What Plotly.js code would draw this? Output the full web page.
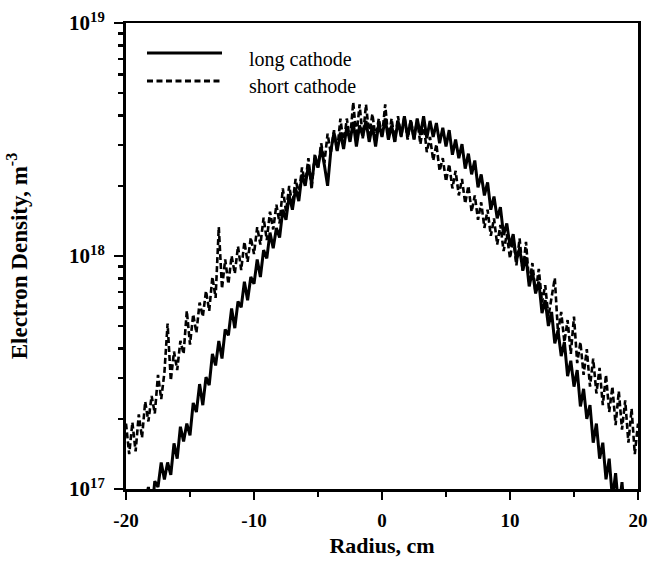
<!DOCTYPE html>
<html>
<head>
<meta charset="utf-8">
<script src="https://cdn.plot.ly/plotly-3.0.1.min.js"></script>
<style>html,body{margin:0;padding:0;background:#fff;}#chart{width:650px;height:569px;}</style>
</head>
<body>
<div id="chart"></div>
<script>
// Radius positions (cm)
const radius = [-20,-19.75,-19.5,-19.25,-19,-18.75,-18.5,-18.25,-18,-17.75,-17.5,-17.25,-17,-16.75,-16.5,-16.25,-16,-15.75,-15.5,-15.25,-15,-14.75,-14.5,-14.25,-14,-13.75,-13.5,-13.25,-13,-12.75,-12.5,-12.25,-12,-11.75,-11.5,-11.25,-11,-10.75,-10.5,-10.25,-10,-9.75,-9.5,-9.25,-9,-8.75,-8.5,-8.25,-8,-7.75,-7.5,-7.25,-7,-6.75,-6.5,-6.25,-6,-5.75,-5.5,-5.25,-5,-4.75,-4.5,-4.25,-4,-3.75,-3.5,-3.25,-3,-2.75,-2.5,-2.25,-2,-1.75,-1.5,-1.25,-1,-0.75,-0.5,-0.25,0,0.25,0.5,0.75,1,1.25,1.5,1.75,2,2.25,2.5,2.75,3,3.25,3.5,3.75,4,4.25,4.5,4.75,5,5.25,5.5,5.75,6,6.25,6.5,6.75,7,7.25,7.5,7.75,8,8.25,8.5,8.75,9,9.25,9.5,9.75,10,10.25,10.5,10.75,11,11.25,11.5,11.75,12,12.25,12.5,12.75,13,13.25,13.5,13.75,14,14.25,14.5,14.75,15,15.25,15.5,15.75,16,16.25,16.5,16.75,17,17.25,17.5,17.75,18,18.25,18.5,18.75,19,19.25,19.5,19.75,20];

// Electron density, m^-3 (long cathode, solid line)
const longCathode = [6.9e16,5.8e16,7.4e16,7.0e16,9.3e16,7.4e16,8.7e16,1.02e17,7.9e16,
1.08e17,1.02e17,1.30e17,1.10e17,1.30e17,1.15e17,1.57e17,1.35e17,
1.85e17,1.60e17,1.91e17,1.70e17,2.34e17,2.14e17,2.82e17,2.29e17,
3.02e17,2.79e17,3.80e17,3.39e17,4.32e17,3.63e17,4.84e17,4.57e17,
5.96e17,4.90e17,6.38e17,6.03e17,7.76e17,6.46e17,8.13e17,7.59e17,
9.66e17,8.13e17,1.06e18,9.77e17,1.26e18,1.08e18,1.32e18,1.20e18,
1.58e18,1.43e18,1.82e18,1.58e18,1.95e18,1.72e18,2.24e18,2.0e18,
2.45e18,2.04e18,2.63e18,2.40e18,2.92e18,2.45e18,2.0e18,2.82e18,
3.39e18,2.82e18,3.39e18,2.88e18,3.59e18,3.09e18,3.76e18,2.95e18,
3.63e18,3.27e18,3.80e18,3.09e18,3.63e18,2.95e18,3.72e18,3.24e18,
3.89e18,3.16e18,3.63e18,3.09e18,3.80e18,3.27e18,3.98e18,3.24e18,
3.80e18,3.16e18,3.89e18,3.31e18,3.98e18,3.20e18,3.80e18,3.24e18,
3.72e18,3.05e18,3.55e18,2.95e18,3.47e18,2.72e18,3.16e18,2.63e18,
3.02e18,2.37e18,2.75e18,2.24e18,2.57e18,1.97e18,2.24e18,1.82e18,
2.07e18,1.58e18,1.80e18,1.45e18,1.62e18,1.23e18,1.38e18,1.10e18,
1.24e18,9.55e17,1.08e18,8.71e17,9.89e17,7.41e17,8.61e17,6.92e17,
7.76e17,5.69e17,6.46e17,5.01e17,5.75e17,4.22e17,4.79e17,3.72e17,
4.27e17,3.05e17,3.55e17,2.75e17,3.24e17,2.26e17,2.69e17,2.0e17,
2.29e17,1.58e17,1.91e17,1.35e17,1.58e17,1.10e17,1.35e17,9.1e16,
1.17e17,8.1e16,1.07e17,7.2e16,9.3e16,6.8e16,8.1e16,6.6e16];

// Electron density, m^-3 (short cathode, dashed line)
const shortCathode = [1.91e17,1.41e17,1.93e17,1.45e17,2.09e17,1.66e17,2.37e17,1.95e17,2.51e17,
2.11e17,3.09e17,2.43e17,3.16e17,5.13e17,2.92e17,3.89e17,3.24e17,
4.32e17,3.80e17,5.82e17,4.17e17,5.62e17,4.68e17,6.31e17,5.50e17,
7.08e17,5.82e17,8.13e17,6.61e17,1.33e18,7.24e17,9.66e17,7.59e17,
1.0e18,8.41e17,1.10e18,8.71e17,1.15e18,9.44e17,1.20e18,1.02e18,
1.33e18,1.12e18,1.46e18,1.17e18,1.55e18,1.30e18,1.66e18,1.38e18,
1.95e18,1.55e18,2.0e18,1.66e18,2.14e18,1.82e18,2.40e18,2.04e18,
2.63e18,1.93e18,2.75e18,2.40e18,3.05e18,2.51e18,3.35e18,2.75e18,
3.47e18,2.82e18,3.89e18,3.02e18,3.89e18,3.13e18,4.57e18,3.24e18,
4.47e18,3.20e18,4.47e18,3.31e18,4.07e18,3.20e18,3.89e18,3.24e18,
4.47e18,3.16e18,3.89e18,3.09e18,3.98e18,3.24e18,3.98e18,3.16e18,
3.85e18,3.16e18,3.85e18,3.02e18,3.72e18,2.79e18,3.24e18,2.57e18,
3.02e18,2.32e18,2.63e18,2.09e18,2.48e18,1.95e18,2.32e18,1.82e18,
2.14e18,1.68e18,2.0e18,1.55e18,1.82e18,1.43e18,1.70e18,1.32e18,
1.58e18,1.22e18,1.45e18,1.12e18,1.36e18,1.05e18,1.24e18,9.77e17,
1.19e18,9.12e17,1.19e18,8.51e17,1.15e18,7.59e17,9.33e17,6.92e17,
8.81e17,6.31e17,7.50e17,5.50e17,6.76e17,8.04e17,4.68e17,5.75e17,
4.27e17,5.31e17,3.80e17,5.50e17,3.47e17,4.27e17,3.09e17,3.98e17,
2.75e17,3.63e17,2.57e17,3.31e17,2.29e17,3.09e17,2.14e17,2.75e17,
1.88e17,2.63e17,1.80e17,2.40e17,1.58e17,2.21e17,1.41e17,1.91e17];

const seriesNames = ['long cathode', 'short cathode'];

// Axis ticks
const xTickVals = [-20, -10, 0, 10, 20];
const xTickText = ['-20', '-10', '0', '10', '20'];
const xMinorTickVals = [-15, -5, 5, 15];
const yTickVals = [1e17, 1e18, 1e19];
const yTickText = ['10<sup>17</sup>', '10<sup>18</sup>', '10<sup>19</sup>'];
const yMinorTickVals = [2e17,3e17,4e17,5e17,6e17,7e17,8e17,9e17,2e18,3e18,4e18,5e18,6e18,7e18,8e18,9e18];

const FONT = 'Liberation Serif, Times New Roman, serif';

const traces = [
  {x: radius, y: longCathode, name: seriesNames[0], type: 'scatter', mode: 'lines',
   line: {color: '#000', width: 3}, showlegend: false},
  {x: radius, y: shortCathode, name: seriesNames[1], type: 'scatter', mode: 'lines',
   line: {color: '#000', width: 2.6, dash: '6px,3px'}, showlegend: false}
];

const layout = {
  width: 650, height: 569,
  margin: {l: 126, r: 12, t: 23, b: 80},
  paper_bgcolor: '#fff', plot_bgcolor: '#fff',
  font: {family: FONT, color: '#000', size: 15},
  xaxis: {
    range: [-20, 20], showgrid: false, zeroline: false,
    showline: true, linecolor: '#000', linewidth: 2.5, mirror: true,
    ticks: 'outside', ticklen: 8, tickwidth: 2.5, tickcolor: '#000',
    tickvals: xTickVals, ticktext: xTickText, ticklabelstandoff: 5,
    minor: {tickvals: xMinorTickVals, ticks: 'outside', ticklen: 5, tickwidth: 2.5, tickcolor: '#000', showgrid: false},
    tickfont: {family: FONT, size: 19, weight: 'bold'},
    title: {text: 'Radius, cm', font: {family: FONT, size: 22, weight: 'bold'}, standoff: 8}
  },
  yaxis: {
    type: 'log', range: [17, 19], showgrid: false, zeroline: false,
    showline: true, linecolor: '#000', linewidth: 3, mirror: true,
    ticks: 'outside', ticklen: 9, tickwidth: 2.5, tickcolor: '#000',
    tickvals: yTickVals, ticktext: yTickText, ticklabelstandoff: 5,
    minor: {tickvals: yMinorTickVals, ticks: 'outside', ticklen: 5, tickwidth: 2.5, tickcolor: '#000', showgrid: false},
    tickfont: {family: FONT, size: 21, weight: 'bold'},
    title: {text: 'Electron Density, m<sup>-3</sup>', font: {family: FONT, size: 23, weight: 'bold'}, standoff: 36}
  },
  shapes: [
    {type: 'line', xref: 'paper', yref: 'paper', x0: 0.041, x1: 0.1875, y0: 0.9356, y1: 0.9356,
     line: {color: '#000', width: 3}},
    {type: 'line', xref: 'paper', yref: 'paper', x0: 0.041, x1: 0.1875, y0: 0.8755, y1: 0.8755,
     line: {color: '#000', width: 3, dash: '6px,3.5px'}}
  ],
  annotations: [
    {xref: 'paper', yref: 'paper', x: 0.236, y: 0.9227, xanchor: 'left', yanchor: 'middle',
     text: seriesNames[0], showarrow: false, font: {family: FONT, size: 20}},
    {xref: 'paper', yref: 'paper', x: 0.236, y: 0.8648, xanchor: 'left', yanchor: 'middle',
     text: seriesNames[1], showarrow: false, font: {family: FONT, size: 20}}
  ]
};

Plotly.newPlot('chart', traces, layout, {displayModeBar: false, staticPlot: true});
</script>
</body>
</html>
